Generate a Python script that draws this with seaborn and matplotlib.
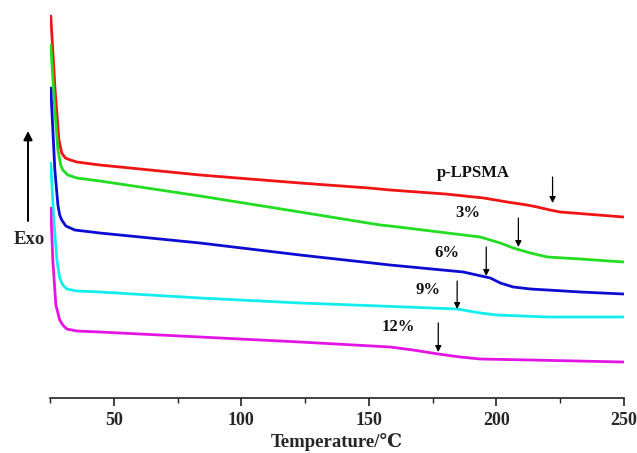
import matplotlib
matplotlib.use("Agg")
import matplotlib.pyplot as plt
import seaborn as sns
import pandas as pd

# Temperature (°C) and heat flow (arbitrary units, exo up)
red_T = [25.3, 27.0, 28.5, 29.6, 31.0, 33.0, 35.5, 44.5, 52.4, 83.8, 123, 150, 158.3, 180, 195, 204.2, 212, 216, 221, 225, 235, 249.8]
red_H = [382, 308, 258, 245, 240, 238, 236, 233, 231, 223, 215, 210, 208, 204, 200, 196, 193, 191, 188, 186, 184, 181]

green_T = [25.3, 26.9, 28.1, 29.2, 30, 32, 35.5, 44.5, 52.4, 83.8, 123, 154.4, 158.3, 193.6, 201.5, 206.6, 213.3, 220, 232.9, 249.8]
green_H = [353, 288, 248, 233, 228, 223, 220, 217, 214, 202, 186, 173, 172, 161, 155, 150, 145, 141, 139, 136]

blue_T = [25.3, 26.9, 28.1, 28.8, 29.6, 31.2, 34.7, 44.5, 52.4, 83.8, 123, 158.3, 187, 197.6, 201.5, 206.6, 213.3, 220, 232.9, 249.8]
blue_H = [310, 228, 193, 183, 178, 172, 168, 165, 163, 155, 143, 133, 126, 120, 115, 111, 109, 108, 106, 104]

cyan_T = [25.3, 26.5, 27.7, 28.8, 30, 31.6, 35.5, 44.5, 83.8, 123, 154.4, 184.6, 193.6, 200.3, 220, 249.8]
cyan_H = [235, 178, 138, 120, 113, 109, 107, 106, 100, 95, 92, 89, 85, 83, 81, 81]

magenta_T = [25.3, 26.1, 27.3, 28.8, 30, 31.6, 35.5, 44.5, 52.4, 83.8, 123, 158.3, 167.3, 177.2, 185.8, 193.6, 213.3, 249.8]
magenta_H = [190, 138, 93, 78, 73, 69, 67, 66, 65, 61, 56, 51, 48, 44, 41, 39, 38, 36]

samples = ["p-LPSMA", "3%", "6%", "9%", "12%"]
colors = ["#f01414", "#22dd22", "#0c0cd2", "#12eeee", "#e414e4"]

# Transition (Tg) arrows: x, start heat, tip heat
arrow_T = [222, 208.6, 196, 184.6, 177.2]
arrow_start = [221, 180, 151, 117, 75]
arrow_tip = [195, 151, 122, 89, 46]

# Label positions
label_T = [190.9, 188.9, 180.7, 173.2, 161.5]
label_H = [225, 185, 145, 108, 71]

xticks_major = [50, 100, 150, 200, 250]
xticks_minor = [25, 75, 125, 175, 225]

series = [(red_T, red_H), (green_T, green_H), (blue_T, blue_H), (cyan_T, cyan_H), (magenta_T, magenta_H)]
frames = []
for name, (t, h) in zip(samples, series):
    frames.append(pd.DataFrame({"T": t, "H": h, "sample": name}))
df = pd.concat(frames, ignore_index=True)

sns.set_theme(style="white")
serif = ["Liberation Serif", "DejaVu Serif", "Noto Sans CJK SC"]
plt.rcParams["font.family"] = serif

fig = plt.figure(figsize=(6.37, 4.53), dpi=100)
ax = fig.add_axes([50 / 637, 55 / 453, 574 / 637, 388 / 453])

sns.lineplot(data=df, x="T", y="H", hue="sample", hue_order=samples,
             palette=dict(zip(samples, colors)), estimator=None, sort=False,
             linewidth=2.0, legend=False, ax=ax)

for xa, ys, yt in zip(arrow_T, arrow_start, arrow_tip):
    ax.annotate("", xy=(xa, yt), xytext=(xa, ys),
                arrowprops=dict(arrowstyle="-|>", color="black", lw=0.9,
                                mutation_scale=9, shrinkA=0, shrinkB=0))

for name, xt, yt in zip(samples, label_T, label_H):
    ax.text(xt, yt, name, ha="center", va="center", fontsize=12,
            fontweight="bold", color="#111111")

ax.set_xlim(25, 250)
ax.set_ylim(0, 388)
ax.set_xticks(xticks_major)
ax.set_xticks(xticks_minor, minor=True)
ax.set_yticks([])
ax.set_xticklabels([str(v) for v in xticks_major], fontsize=13, fontweight="bold")
ax.tick_params(axis="x", which="major", direction="out", length=6, width=1.2,
               color="#222222", pad=4, bottom=True)
ax.tick_params(axis="x", which="minor", direction="out", length=3.5, width=1.0,
               color="#222222", bottom=True)
for side in ["left", "right", "top"]:
    ax.spines[side].set_visible(False)
ax.spines["bottom"].set_color("#222222")
ax.spines["bottom"].set_linewidth(1.2)
ax.set_xlabel("Temperature/℃", fontsize=13.5, fontweight="bold", labelpad=3)
ax.set_ylabel("")

fig.patches.append(matplotlib.patches.FancyArrowPatch(
    (28 / 637, (453 - 221) / 453), (28 / 637, (453 - 131) / 453),
    transform=fig.transFigure, arrowstyle="-|>", mutation_scale=13,
    color="black", lw=1.4, shrinkA=0, shrinkB=0))
fig.text(29 / 637, (453 - 240) / 453, "Exo", ha="center", va="center",
         fontsize=13.5, fontweight="bold")

fig.savefig("out.png", dpi=100)
